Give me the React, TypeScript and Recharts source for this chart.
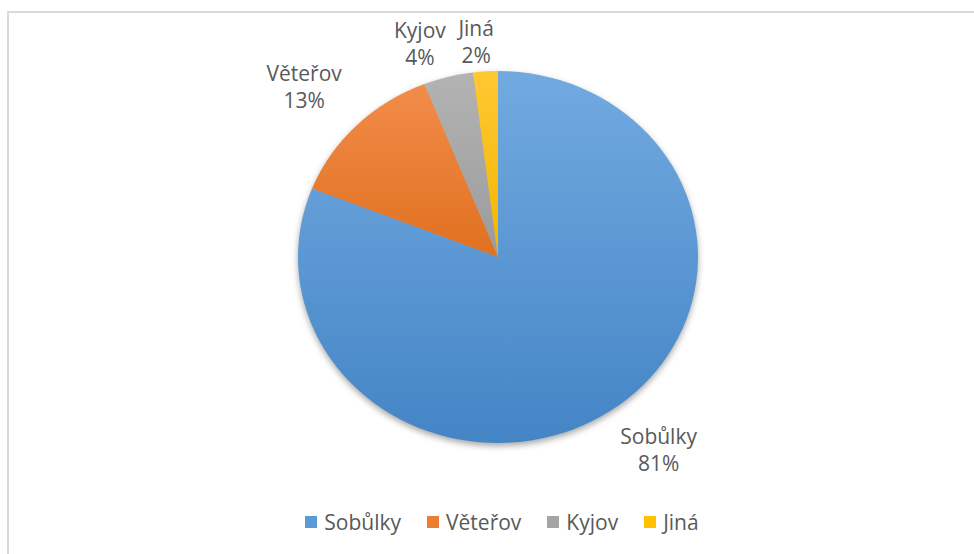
import { PieChart, Pie, Cell, Legend } from "recharts"

const names = ["Sobůlky", "Věteřov", "Kyjov", "Jiná"]
const shares = [81, 13, 4, 2]
const colors = ["#5b9bd5", "#ed7d31", "#a5a5a5", "#ffc000"]
const lightColors = ["#72aae0", "#f28c4a", "#b3b3b3", "#ffc833"]
const darkColors = ["#4485c6", "#e0701f", "#9b9b9b", "#f2b600"]

const data = names.map((name, i) => ({ name, value: shares[i] }))

const W = 974
const H = 554
const CX = 498
const CY = 257
const R = 186
const SX = 200 / 186
const FONT = '"Open Sans", "Noto Sans", sans-serif'
const FONT_SIZE = 21
const TEXT = "#595959"
const RAD = Math.PI / 180

let ctx: CanvasRenderingContext2D | null = null
const textWidth = (s: string) => {
  if (!ctx) ctx = document.createElement("canvas").getContext("2d")
  if (!ctx) return s.length * 11
  ctx.font = `${FONT_SIZE}px ${FONT}`
  return ctx.measureText(s).width
}

// data label outside the (slightly stretched) pie: the label box sits on the
// slice's middle ray, a little way out from the edge, leaning away from the pie
const renderLabel = (p: any) => {
  const c = Math.cos(p.midAngle * RAD)
  const s = Math.sin(p.midAngle * RAD)
  const gap = 4 + 24 * Math.abs(c)
  const px = p.cx + (p.outerRadius * SX + gap) * c
  const py = p.cy - (p.outerRadius + gap) * s
  const pct = `${Math.round(p.percent * 100)}%`
  const w = Math.max(textWidth(p.name), textWidth(pct))
  const h = 48
  const lean = Math.max(-1, Math.min(1, c * 8))
  const lx = px + lean * (w / 2)
  const ly = py - Math.sign(s) * (h / 2)
  return (
    <text
      x={lx}
      y={ly}
      textAnchor="middle"
      fill={TEXT}
      stroke="none"
      fontSize={FONT_SIZE}
      fontFamily={FONT}
    >
      <tspan x={lx} y={ly - 13.5} dominantBaseline="central">
        {p.name}
      </tspan>
      <tspan x={lx} y={ly + 13.5} dominantBaseline="central">
        {pct}
      </tspan>
    </text>
  )
}

const renderLegend = () => (
  <div
    style={{
      display: "flex",
      justifyContent: "center",
      gap: 26,
      paddingLeft: 30,
      fontFamily: FONT,
      fontSize: FONT_SIZE,
      color: TEXT,
      lineHeight: "28px",
    }}
  >
    {names.map((n, i) => (
      <div key={n} style={{ display: "flex", alignItems: "center" }}>
        <span
          style={{
            display: "inline-block",
            width: 12,
            height: 12,
            background: colors[i],
            marginRight: 7,
          }}
        />
        {n}
      </div>
    ))}
  </div>
)

const App = () => {
  return (
    <div
      style={{
        position: "absolute",
        left: 0,
        top: 0,
        width: W,
        height: H,
        overflow: "hidden",
        background: "#fff",
      }}
    >
      <svg width={0} height={0} style={{ position: "absolute" }}>
        <defs>
          {names.map((n, i) => (
            <linearGradient key={n} id={`slice-${i}`} x1="0" y1="0" x2="0" y2="1">
              <stop offset="0%" stopColor={lightColors[i]} />
              <stop offset="100%" stopColor={darkColors[i]} />
            </linearGradient>
          ))}
        </defs>
      </svg>

      <div
        style={{
          position: "absolute",
          left: 7,
          top: 11,
          width: 1000,
          height: 600,
          border: "2px solid #d9d9d9",
          boxSizing: "border-box",
        }}
      />

      {/* slices, stretched a little horizontally like the original */}
      <div
        style={{
          position: "absolute",
          left: 0,
          top: 0,
          transform: `scaleX(${SX})`,
          transformOrigin: `${CX}px ${CY}px`,
          filter: "drop-shadow(0px 3px 3px rgba(0,0,0,0.35))",
        }}
      >
        <PieChart width={W} height={H} margin={{ top: 0, right: 0, bottom: 0, left: 0 }}>
          <Pie
            data={data}
            dataKey="value"
            nameKey="name"
            cx={CX}
            cy={CY}
            outerRadius={R}
            startAngle={90}
            endAngle={-270}
            stroke="none"
            isAnimationActive={false}
          >
            {data.map((entry, index) => (
              <Cell key={`cell-${index}`} fill={`url(#slice-${index})`} />
            ))}
          </Pie>
        </PieChart>
      </div>

      {/* labels and legend */}
      <div style={{ position: "absolute", left: 0, top: 0 }}>
        <PieChart width={W} height={H} margin={{ top: 0, right: 0, bottom: 0, left: 0 }}>
          <Pie
            data={data}
            dataKey="value"
            nameKey="name"
            cx={CX}
            cy={CY}
            outerRadius={R}
            startAngle={90}
            endAngle={-270}
            fill="transparent"
            stroke="none"
            label={renderLabel}
            labelLine={false}
            isAnimationActive={false}
          />
          <Legend
            content={renderLegend}
            wrapperStyle={{ left: 0, top: 508, bottom: "auto", width: W }}
          />
        </PieChart>
      </div>
    </div>
  )
}

export default App
